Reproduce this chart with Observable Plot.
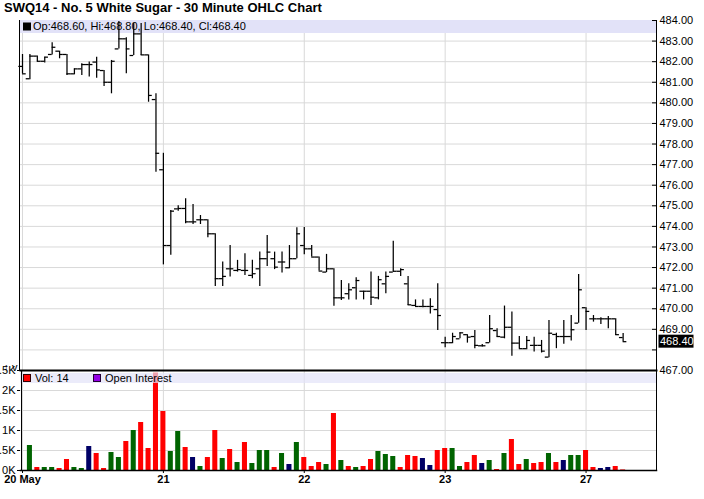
<!DOCTYPE html>
<html><head><meta charset="utf-8">
<script src="https://cdn.jsdelivr.net/npm/d3@7"></script>
<script src="https://cdn.jsdelivr.net/npm/@observablehq/plot@0.6"></script>
<style>
html,body{margin:0;padding:0;background:#fff}
#wrap{position:relative;width:704px;height:499px;overflow:hidden;font-family:"Liberation Sans",Arial,sans-serif}
#title{position:absolute;left:4px;top:0px;font:bold 13px "Liberation Sans",Arial,sans-serif;color:#000;white-space:nowrap}
#price,#vol{position:absolute;left:0}
#price{top:0}
#vol{top:360px}
</style></head><body>
<div id="wrap">
<div id="title">SWQ14 - No. 5 White Sugar - 30 Minute OHLC Chart</div>
<div id="price"></div>
<div id="vol"></div>
</div>
<script>
// ---- data (30-minute bars, index 0..81) ----
const opens = [481.77,481.17,482.27,482.02,482.35,482.51,482.35,481.41,481.65,481.86,481.98,481.57,481.00,482.62,483.11,482.30,483.35,482.33,480.16,476.75,
473.07,474.85,474.87,474.22,474.32,474.32,473.64,471.46,471.94,471.86,471.86,471.62,471.94,472.43,472.43,472.27,471.99,472.43,473.07,472.91,
472.51,471.78,471.94,470.53,470.73,471.02,470.85,470.85,470.53,471.21,471.78,471.82,471.21,470.16,470.11,470.11,469.96,468.35,468.35,468.54,
468.74,468.65,468.20,468.35,468.94,468.62,469.10,468.33,468.06,468.22,468.22,467.65,468.75,468.65,468.65,469.30,470.05,469.51,469.51,469.51,
469.51,468.60];
const highs = [482.35,482.35,482.27,482.22,482.92,482.51,482.35,481.65,481.90,481.98,482.22,481.57,482.06,483.95,483.16,483.85,483.85,482.33,480.44,477.55,
474.77,475.00,475.34,475.06,474.53,474.32,473.64,472.27,473.07,472.35,472.67,472.35,472.75,473.56,472.75,472.75,473.07,473.93,473.95,473.07,
472.51,472.64,471.94,471.37,471.21,471.50,470.85,471.78,471.57,471.78,473.28,471.94,471.57,470.43,470.43,470.48,471.21,468.62,468.81,468.83,
468.74,468.94,468.26,469.67,469.03,470.13,469.84,468.65,468.65,468.62,468.46,469.43,468.81,469.43,469.67,471.66,470.05,469.67,469.56,469.62,
469.51,468.80];
const lows = [481.41,481.12,481.98,481.94,482.33,482.14,481.33,481.36,481.33,481.25,481.20,480.79,480.44,482.62,481.41,482.30,482.30,480.03,476.63,472.13,
472.60,474.74,474.13,474.09,474.09,473.45,471.08,471.08,471.54,471.78,471.62,471.46,471.08,472.05,471.90,471.73,471.94,472.43,472.62,472.51,
471.83,471.75,470.12,470.40,470.43,470.43,470.43,470.16,470.43,470.73,471.78,471.57,470.16,470.11,470.05,469.75,468.94,468.10,468.30,468.54,
468.33,468.06,468.14,468.33,468.62,468.54,467.69,468.06,468.01,467.90,467.85,467.62,468.06,468.27,468.43,469.30,468.94,469.35,469.24,469.03,
468.70,468.40];
const closes = [481.41,482.27,482.02,482.22,482.70,482.35,481.41,481.65,481.86,481.86,481.60,481.00,482.02,483.11,482.62,483.35,482.33,480.36,477.55,473.07,
474.74,474.87,474.22,474.22,474.32,473.64,471.46,471.57,471.94,471.90,471.86,471.70,472.43,472.75,472.02,472.27,472.43,473.64,472.91,472.51,
471.83,471.94,470.53,470.53,470.92,471.37,470.85,470.56,471.41,471.57,471.82,471.90,470.19,470.11,470.11,470.11,469.67,468.35,468.65,468.83,
468.62,468.22,468.20,469.03,468.65,469.10,468.33,468.06,468.46,468.22,467.94,468.81,468.65,468.65,468.98,470.92,469.87,469.51,469.51,469.51,
468.74,468.40];
const volumes = [null,625,75,75,75,50,275,75,50,600,425,50,450,325,725,1000,1200,550,2430,1475,
475,975,575,325,100,325,1000,300,525,200,700,175,500,500,75,425,150,700,325,100,
200,150,1425,250,100,75,100,275,475,400,350,75,375,350,300,125,500,550,550,100,
200,375,175,250,25,425,775,150,275,175,200,425,200,250,375,375,500,75,50,75,
100,14];
const volDir = ["","u","d","u","u","d","d","u","u","n","d","d","u","u","d","u","d","d","d","d",
"u","u","d","n","u","d","d","u","d","u","d","u","u","u","d","u","n","u","d","d",
"d","u","d","u","d","u","d","d","u","u","u","d","d","d","n","n","d","d","u","u",
"d","d","n","u","d","u","d","d","u","d","d","u","d","n","u","u","d","d","n","n",
"d","d"];
const dayTicks = [0, 19, 38, 57, 76];
const dayLabels = ["20 May", "21", "22", "23", "27"];
const priceTicks = d3.range(467, 485);
const volTicks = [0, 500, 1000, 1500, 2000, 2500];

// ---- build tables ----
const bars = opens.map((o, i) => ({i, o, h: highs[i], l: lows[i], c: closes[i]}));
const volBars = volumes.map((v, i) => ({i, v, dir: volDir[i]})).filter(d => d.v != null);
const last = bars[bars.length - 1];
const lastVol = volumes[volumes.length - 1];
const xDomain = [-0.27, 85.5];
const font = '"Liberation Sans", Arial, sans-serif';
const fmt2 = d => d.toFixed(2);

// legend band drawn inside the plot frame
function band(h, opacity, offset, textDx, list) {
  return (index, scales, values, dims) => {
    const g = d3.create("svg:g");
    const top = dims.marginTop + offset;
    g.append("rect")
      .attr("x", dims.marginLeft).attr("y", top)
      .attr("width", dims.width - dims.marginLeft - dims.marginRight).attr("height", h)
      .attr("fill", "#e2e2f8").attr("fill-opacity", opacity);
    let x = dims.marginLeft + 3;
    const cy = top + h / 2;
    for (const it of list) {
      g.append("rect").attr("x", x + 0.5).attr("y", cy - 3.5).attr("width", 7).attr("height", 7)
        .attr("fill", it.color).attr("stroke", it.outline || it.color).attr("stroke-width", 1);
      g.append("text").attr("x", x + textDx).attr("y", cy).attr("dy", "0.35em")
        .attr("text-anchor", "start")
        .attr("font-size", 11).attr("font-family", font).attr("fill", "#000").text(it.label);
      x += it.gap;
    }
    return g.node();
  };
}

// current price label in a black box on the right axis
function lastPriceBox(value) {
  return (index, scales, values, dims) => {
    const g = d3.create("svg:g");
    const y = scales.y(value);
    const x = dims.width - dims.marginRight + 2.5;
    g.append("rect").attr("x", x).attr("y", y - 6.5).attr("width", 35).attr("height", 13).attr("fill", "#000");
    g.append("text").attr("x", x + 1.5).attr("y", y).attr("dy", "0.35em").attr("text-anchor", "start")
      .attr("font-size", 11).attr("font-family", font).attr("fill", "#fff").text(fmt2(value));
    return g.node();
  };
}

// ---- price panel ----
const price = Plot.plot({
  width: 704, height: 372,
  marginTop: 20, marginBottom: 2, marginLeft: 20, marginRight: 48,
  style: {background: "transparent", fontFamily: font, fontSize: "11px", overflow: "visible"},
  x: {domain: xDomain, axis: null},
  y: {domain: [467, 484], axis: null},
  marks: [
    Plot.gridY(priceTicks, {stroke: "#d9d9d9", strokeOpacity: 1}),
    Plot.gridX(dayTicks, {stroke: "#d9d9d9", strokeOpacity: 1}),
    band(13, 1, 0, 10, [{color: "#000", label: `Op:${fmt2(last.o)}, Hi:${fmt2(last.h)}, Lo:${fmt2(last.l)}, Cl:${fmt2(last.c)}`, gap: 0}]),
    Plot.ruleX(bars, {x: "i", y1: "l", y2: "h", stroke: "#000", strokeWidth: 1.25}),
    Plot.ruleY(bars, {y: "o", x1: d => d.i - 0.5, x2: "i", stroke: "#000", strokeWidth: 1.25}),
    Plot.ruleY(bars, {y: "c", x1: "i", x2: d => d.i + 0.5, stroke: "#000", strokeWidth: 1.25}),
    Plot.axisY(priceTicks, {anchor: "right", tickSize: -5, tickPadding: 8, fontSize: 11,
      tickFormat: d => Math.abs(d - last.c) < 0.55 ? "" : fmt2(d)}),
    lastPriceBox(last.c),
    Plot.frame({anchor: "left", dx: -1}),
    Plot.frame({anchor: "right"})
  ]
});
document.getElementById("price").appendChild(price);

// ---- volume panel ----
const vol = Plot.plot({
  width: 704, height: 139,
  marginTop: 10, marginBottom: 29, marginLeft: 20, marginRight: 48,
  style: {background: "transparent", fontFamily: font, fontSize: "11px", overflow: "visible"},
  x: {domain: xDomain, axis: null},
  y: {domain: [0, 2500], axis: null},
  color: {domain: ["u", "d", "n"], range: ["#006400", "#ff0000", "#000066"]},
  marks: [
    Plot.gridY(volTicks, {stroke: "#d9d9d9", strokeOpacity: 1}),
    Plot.gridX(dayTicks, {stroke: "#d9d9d9", strokeOpacity: 1}),
    Plot.rectY(volBars, {x1: d => d.i - 0.34, x2: d => d.i + 0.34, y1: 0, y2: "v", fill: "dir"}),
    band(10, 0.7, 3, 12, [
      {color: "#ff0000", outline: "#330000", label: `Vol: ${lastVol}`, gap: 70},
      {color: "#9400e6", outline: "#220033", label: "Open Interest", gap: 0}
    ]),
    Plot.axisY(volTicks, {anchor: "left", tickSize: 3, tickPadding: 2, fontSize: 11,
      tickFormat: d => d === 0 ? "0K" : (d / 1000) + "K"}),
    Plot.axisX(dayTicks, {anchor: "bottom", tickSize: 3, tickPadding: 2, fontSize: 11, fontWeight: "bold",
      tickFormat: d => dayLabels[dayTicks.indexOf(d)]}),
    Plot.frame({anchor: "top", strokeWidth: 2}),
    Plot.frame({anchor: "bottom", strokeWidth: 1.5}),
    Plot.frame({anchor: "left", dx: 1}),
    Plot.frame({anchor: "right"})
  ]
});
document.getElementById("vol").appendChild(vol);
</script>
</body></html>
